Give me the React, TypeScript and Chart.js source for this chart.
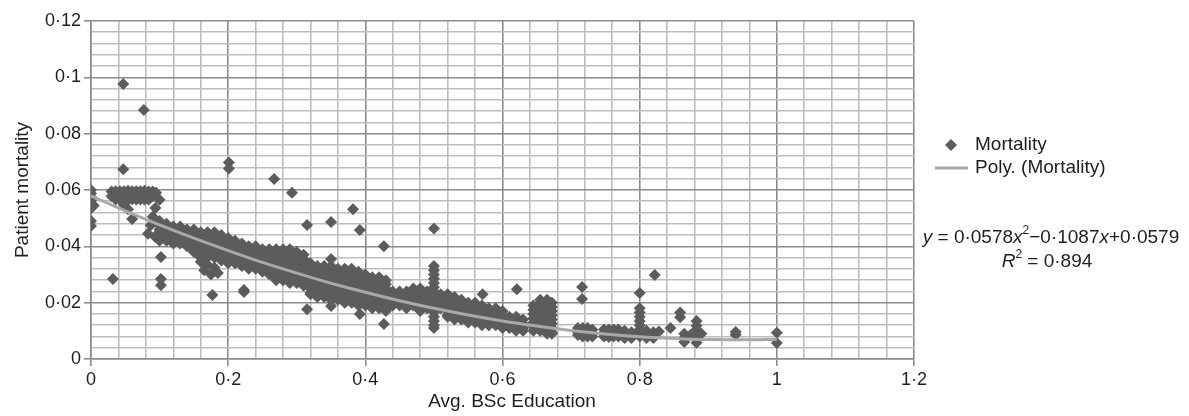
import React, { useEffect, useRef } from "react";
import { Chart, registerables } from "chart.js";

Chart.register(...registerables);

type Pair = [number, number];
type Column = [number, number[]];

// ---------- DATA ----------
const leftEdgePoints: Pair[] = [
  [0, 0.06], [0, 0.0588], [0, 0.0575], [0, 0.0562], [0, 0.055], [0, 0.0535],
  [0, 0.049], [0, 0.0472], [0.004, 0.0545],
];

const topClusterColumns: Column[] = [
  [0.03, [0.0595, 0.0578]],
  [0.036, [0.0596, 0.058, 0.0566]],
  [0.042, [0.0596, 0.058, 0.0566]],
  [0.048, [0.0596, 0.058, 0.0566, 0.0548]],
  [0.054, [0.0597, 0.058, 0.0566, 0.0532]],
  [0.06, [0.0596, 0.058, 0.0567, 0.0497]],
  [0.066, [0.0596, 0.058, 0.0566]],
  [0.072, [0.0596, 0.058, 0.0566]],
  [0.078, [0.0597, 0.058, 0.0566]],
  [0.084, [0.0595, 0.0578, 0.0566]],
  [0.09, [0.0595, 0.0578]],
  [0.095, [0.059, 0.0575]],
];

const branchPoints: Pair[] = [
  [0.1, 0.0565], [0.094, 0.0536], [0.09, 0.0505], [0.087, 0.0475], [0.083, 0.0445],
  [0.093, 0.0435], [0.104, 0.0455],
];

const lowerClusterPoints: Pair[] = [
  [0.158, 0.0365], [0.16, 0.0345], [0.165, 0.0315], [0.17, 0.0335], [0.175, 0.03],
  [0.18, 0.0325], [0.185, 0.0305],
];

const bandColumns: Column[] = [
  [0.1, [0.049, 0.0475, 0.046, 0.0445, 0.043, 0.042]],
  [0.11, [0.048, 0.0465, 0.045, 0.0435, 0.042]],
  [0.12, [0.047, 0.0455, 0.044, 0.0425, 0.041]],
  [0.13, [0.047, 0.0455, 0.044, 0.0425, 0.041]],
  [0.14, [0.046, 0.0445, 0.043, 0.0415, 0.04]],
  [0.15, [0.046, 0.0445, 0.043, 0.0415, 0.04, 0.0385, 0.038]],
  [0.16, [0.045, 0.0435, 0.042, 0.0405, 0.039, 0.0375, 0.037]],
  [0.17, [0.045, 0.0435, 0.042, 0.0405, 0.039, 0.0375, 0.036]],
  [0.18, [0.045, 0.0435, 0.042, 0.0405, 0.039, 0.0375, 0.036]],
  [0.19, [0.044, 0.0425, 0.041, 0.0395, 0.038, 0.0365, 0.035]],
  [0.2, [0.043, 0.0415, 0.04, 0.0385, 0.037, 0.0355, 0.034]],
  [0.21, [0.042, 0.0405, 0.039, 0.0375, 0.036, 0.0345, 0.034]],
  [0.22, [0.041, 0.0395, 0.038, 0.0365, 0.035, 0.0335, 0.033]],
  [0.23, [0.04, 0.0385, 0.037, 0.0355, 0.034, 0.0325, 0.032]],
  [0.24, [0.04, 0.0385, 0.037, 0.0355, 0.034, 0.0325, 0.032]],
  [0.25, [0.039, 0.0375, 0.036, 0.0345, 0.033, 0.0315, 0.031]],
  [0.26, [0.039, 0.0375, 0.036, 0.0345, 0.033, 0.0315, 0.03]],
  [0.27, [0.039, 0.0375, 0.036, 0.0345, 0.033, 0.0315, 0.03, 0.0285, 0.028]],
  [0.28, [0.039, 0.0375, 0.036, 0.0345, 0.033, 0.0315, 0.03, 0.0285, 0.028]],
  [0.29, [0.039, 0.0375, 0.036, 0.0345, 0.033, 0.0315, 0.03, 0.0285, 0.027]],
  [0.3, [0.038, 0.0365, 0.035, 0.0335, 0.032, 0.0305, 0.029, 0.0275, 0.027]],
  [0.31, [0.037, 0.0355, 0.034, 0.0325, 0.031, 0.0295, 0.028, 0.0265, 0.026]],
  [0.32, [0.034, 0.0325, 0.031, 0.0295, 0.028, 0.0265, 0.025, 0.0235, 0.023]],
  [0.33, [0.033, 0.0315, 0.03, 0.0285, 0.027, 0.0255, 0.024, 0.0225, 0.022]],
  [0.34, [0.033, 0.0315, 0.03, 0.0285, 0.027, 0.0255, 0.024, 0.0225, 0.022]],
  [0.35, [0.033, 0.0315, 0.03, 0.0285, 0.027, 0.0255, 0.024, 0.0225, 0.021]],
  [0.36, [0.032, 0.0305, 0.029, 0.0275, 0.026, 0.0245, 0.023, 0.0215, 0.021]],
  [0.37, [0.032, 0.0305, 0.029, 0.0275, 0.026, 0.0245, 0.023, 0.0215, 0.02]],
  [0.38, [0.032, 0.0305, 0.029, 0.0275, 0.026, 0.0245, 0.023, 0.0215, 0.02]],
  [0.39, [0.031, 0.0295, 0.028, 0.0265, 0.025, 0.0235, 0.022, 0.0205, 0.019]],
  [0.4, [0.03, 0.0285, 0.027, 0.0255, 0.024, 0.0225, 0.021, 0.0195, 0.019]],
  [0.41, [0.029, 0.0275, 0.026, 0.0245, 0.023, 0.0215, 0.02, 0.0185, 0.018]],
  [0.42, [0.029, 0.0275, 0.026, 0.0245, 0.023, 0.0215, 0.02, 0.0185, 0.018]],
  [0.43, [0.028, 0.0265, 0.025, 0.0235, 0.022, 0.0205, 0.019, 0.0175, 0.017]],
  [0.44, [0.024, 0.0225, 0.021, 0.0195, 0.019]],
  [0.45, [0.024, 0.0225, 0.021, 0.0195, 0.019]],
  [0.46, [0.024, 0.0225, 0.021, 0.0195, 0.018]],
  [0.47, [0.025, 0.0235, 0.022, 0.0205, 0.019]],
  [0.48, [0.025, 0.0235, 0.022, 0.0205, 0.019, 0.0175, 0.017]],
  [0.49, [0.024, 0.0225, 0.021, 0.0195, 0.018]],
  [0.5, [0.033, 0.0315, 0.03, 0.0285, 0.027, 0.0255, 0.024, 0.0225, 0.021, 0.0195, 0.018, 0.0165, 0.015, 0.0135, 0.012, 0.011]],
  [0.51, [0.023, 0.0215, 0.02, 0.0185, 0.018]],
  [0.52, [0.023, 0.0215, 0.02, 0.0185, 0.017, 0.0155, 0.015]],
  [0.53, [0.022, 0.0205, 0.019, 0.0175, 0.016, 0.0145, 0.014]],
  [0.54, [0.021, 0.0195, 0.018, 0.0165, 0.015, 0.014]],
  [0.55, [0.02, 0.0185, 0.017, 0.0155, 0.014, 0.013]],
  [0.56, [0.02, 0.0185, 0.017, 0.0155, 0.014, 0.013]],
  [0.57, [0.019, 0.0175, 0.016, 0.0145, 0.013, 0.012]],
  [0.58, [0.018, 0.0165, 0.015, 0.0135, 0.012]],
  [0.59, [0.018, 0.0165, 0.015, 0.0135, 0.012]],
  [0.6, [0.017, 0.0155, 0.014, 0.0125, 0.011]],
  [0.61, [0.015, 0.0135, 0.012, 0.011]],
  [0.62, [0.015, 0.0135, 0.012, 0.0105, 0.01]],
  [0.63, [0.014, 0.0125, 0.011, 0.01]],
  [0.645, [0.019, 0.0175, 0.016, 0.0145, 0.013, 0.0115, 0.01]],
  [0.655, [0.021, 0.0195, 0.018, 0.0165, 0.015, 0.0135, 0.012, 0.0105, 0.01]],
  [0.665, [0.021, 0.0195, 0.018, 0.0165, 0.015, 0.0135, 0.012, 0.0105, 0.009]],
  [0.672, [0.02, 0.0185, 0.017, 0.0155, 0.014, 0.0125, 0.011, 0.0095, 0.009]],
];

const tailColumns: Column[] = [
  [0.71, [0.011, 0.0095, 0.0085]],
  [0.717, [0.011, 0.0093, 0.008]],
  [0.724, [0.011, 0.0093, 0.008]],
  [0.731, [0.0105, 0.0092, 0.008]],
  [0.748, [0.0105, 0.0092, 0.008]],
  [0.755, [0.0105, 0.0092, 0.0078]],
  [0.762, [0.0105, 0.0092, 0.008]],
  [0.769, [0.0105, 0.0092, 0.008]],
  [0.778, [0.01, 0.0088, 0.0075]],
  [0.788, [0.0095, 0.0085, 0.0075]],
  [0.8, [0.0234, 0.018, 0.0165, 0.015, 0.0135, 0.012, 0.0105, 0.009, 0.008]],
  [0.81, [0.01, 0.0088, 0.0075]],
  [0.82, [0.0095, 0.0085, 0.0075]],
  [0.828, [0.0098]],
  [0.845, [0.011]],
  [0.859, [0.0165, 0.0148]],
  [0.865, [0.009, 0.0075, 0.006]],
  [0.874, [0.0085]],
  [0.883, [0.0135, 0.0118, 0.0105, 0.009, 0.008, 0.0058]],
  [0.89, [0.009]],
  [0.94, [0.0096, 0.0086]],
  [1.0, [0.0093, 0.0057]],
];

const outlierPoints: Pair[] = [
  [0.047, 0.0976], [0.077, 0.0884], [0.047, 0.0674], [0.201, 0.0698], [0.201, 0.0676],
  [0.267, 0.0639], [0.293, 0.059], [0.032, 0.0284], [0.102, 0.0362], [0.102, 0.0284],
  [0.102, 0.0262], [0.177, 0.0227], [0.223, 0.0245], [0.223, 0.0238], [0.315, 0.0476],
  [0.35, 0.0486], [0.382, 0.0532], [0.392, 0.0458], [0.427, 0.04], [0.35, 0.0355],
  [0.315, 0.0177], [0.35, 0.0188], [0.392, 0.016], [0.427, 0.0124], [0.5, 0.0463],
  [0.571, 0.023], [0.621, 0.0248], [0.716, 0.0256], [0.716, 0.0213], [0.822, 0.0298],
];

const trendX = [0, 0.05, 0.1, 0.15, 0.2, 0.25, 0.3, 0.35, 0.4, 0.45, 0.5, 0.55, 0.6, 0.65, 0.7, 0.75, 0.8, 0.85, 0.9, 0.95, 1.0];
const trendY = [0.0579, 0.0526, 0.0476, 0.0429, 0.0385, 0.0343, 0.0305, 0.0269, 0.0237, 0.0207, 0.018, 0.0156, 0.0135, 0.0117, 0.0101, 0.0089, 0.0079, 0.0073, 0.0069, 0.0068, 0.007];

const yTickValues = [0, 0.02, 0.04, 0.06, 0.08, 0.1, 0.12];
const yTickLabels = ["0", "0·02", "0·04", "0·06", "0·08", "0·1", "0·12"];
const xTickValues = [0, 0.2, 0.4, 0.6, 0.8, 1, 1.2];
const xTickLabels = ["0", "0·2", "0·4", "0·6", "0·8", "1", "1·2"];

const seriesLabel = "Mortality";
const trendLabel = "Poly. (Mortality)";
const xTitle = "Avg. BSc Education";
const yTitle = "Patient mortality";

// ---------- STYLE ----------
const FONT = '"Liberation Sans", Arial, Helvetica, sans-serif';
const POINT_COLOR = "#5c5c5c";
const TREND_COLOR = "#a8a8a8";
const MAJOR_GRID = "#8c8c8c";
const MINOR_GRID = "#bdbdbd";
const TEXT_COLOR = "#1e1e1e";

function expand(cols: Column[]): Pair[] {
  return cols.flatMap(([x, ys]) => ys.map((y) => [x, y] as Pair));
}
function isMajor(v: number, step: number) {
  const r = v / step;
  return Math.abs(r - Math.round(r)) < 1e-6;
}
function labelFor(v: number, values: number[], labels: string[]) {
  const i = values.findIndex((t) => Math.abs(t - v) < 1e-7);
  return i >= 0 ? labels[i] : "";
}

type Seg = { t: string; italic?: boolean; sup?: boolean };
const equationSegs: Seg[] = [
  { t: "y", italic: true }, { t: " = 0·0578" }, { t: "x", italic: true }, { t: "2", sup: true },
  { t: "\u22120·1087" }, { t: "x", italic: true }, { t: "+0·0579" },
];
const r2Segs: Seg[] = [{ t: "R", italic: true }, { t: "2", sup: true }, { t: " = 0·894" }];

function drawRich(ctx: CanvasRenderingContext2D, segs: Seg[], cx: number, cy: number, size: number) {
  const fontOf = (s: Seg) => `${s.italic ? "italic " : ""}${s.sup ? Math.round(size * 0.65) : size}px ${FONT}`;
  let total = 0;
  for (const s of segs) { ctx.font = fontOf(s); total += ctx.measureText(s.t).width; }
  let x = cx - total / 2;
  ctx.textAlign = "left";
  ctx.textBaseline = "middle";
  for (const s of segs) {
    ctx.font = fontOf(s);
    ctx.fillText(s.t, x, s.sup ? cy - 7 : cy);
    x += ctx.measureText(s.t).width;
  }
}

const overlayPlugin = {
  id: "overlayText",
  afterDraw(chart: any) {
    const ctx: CanvasRenderingContext2D = chart.ctx;
    ctx.save();
    const y1 = 145, y2 = 168, mx = 951, tx = 975;
    ctx.fillStyle = POINT_COLOR;
    ctx.beginPath();
    ctx.moveTo(mx, y1 - 6); ctx.lineTo(mx + 6, y1); ctx.lineTo(mx, y1 + 6); ctx.lineTo(mx - 6, y1);
    ctx.closePath(); ctx.fill();
    ctx.strokeStyle = TREND_COLOR; ctx.lineWidth = 3;
    ctx.beginPath(); ctx.moveTo(935, y2); ctx.lineTo(968, y2); ctx.stroke();
    ctx.fillStyle = TEXT_COLOR;
    ctx.font = `19px ${FONT}`;
    ctx.textAlign = "left"; ctx.textBaseline = "middle";
    ctx.fillText(seriesLabel, tx, y1);
    ctx.fillText(trendLabel, tx, y2);
    drawRich(ctx, equationSegs, 1051, 238, 19);
    drawRich(ctx, r2Segs, 1047, 262, 19);
    ctx.font = `19px ${FONT}`;
    ctx.textAlign = "center";
    ctx.fillText(xTitle, 512, 402);
    ctx.restore();
  },
};

export default function App() {
  const ref = useRef<HTMLCanvasElement | null>(null);
  useEffect(() => {
    if (!ref.current) return;
    Chart.defaults.font.family = FONT;
    const scatterData = [
      ...leftEdgePoints, ...expand(topClusterColumns), ...branchPoints, ...lowerClusterPoints,
      ...expand(bandColumns), ...expand(tailColumns), ...outlierPoints,
    ].map(([x, y]) => ({ x, y }));
    const trendData = trendX.map((x, i) => ({ x, y: trendY[i] }));
    const gridColor = (step: number) => (c: any) => (c.tick && isMajor(c.tick.value, step) ? MAJOR_GRID : MINOR_GRID);
    const tickColor = (step: number) => (c: any) => (c.tick && isMajor(c.tick.value, step) ? MAJOR_GRID : "rgba(0,0,0,0)");
    const chart = new Chart(ref.current, {
      type: "scatter",
      data: {
        datasets: [
          {
            label: trendLabel, data: trendData, showLine: true, borderColor: TREND_COLOR,
            borderWidth: 3, pointRadius: 0, cubicInterpolationMode: "monotone", order: 0,
          } as any,
          {
            label: seriesLabel, data: scatterData, pointStyle: "rectRot", pointRadius: 6,
            backgroundColor: POINT_COLOR, borderColor: POINT_COLOR, borderWidth: 0, order: 1,
          } as any,
        ],
      },
      options: {
        responsive: false,
        animation: false,
        layout: { padding: { top: 21, right: 275, bottom: 0, left: 0 } },
        plugins: { legend: { display: false }, tooltip: { enabled: false } },
        scales: {
          x: {
            type: "linear", min: 0, max: 1.2,
            ticks: {
              stepSize: 0.04, autoSkip: false, maxRotation: 0, padding: 3,
              color: TEXT_COLOR, font: { size: 18 },
              callback: (v: any) => labelFor(Number(v), xTickValues, xTickLabels),
            },
            grid: { color: gridColor(0.2), lineWidth: 1.6, tickColor: tickColor(0.2), tickLength: 7 },
            border: { color: MAJOR_GRID, width: 1.6 },
            afterFit: (s: any) => { s.height = 57; },
          },
          y: {
            type: "linear", min: 0, max: 0.12,
            ticks: {
              stepSize: 0.004, autoSkip: false, padding: 3,
              color: TEXT_COLOR, font: { size: 18 },
              callback: (v: any) => labelFor(Number(v), yTickValues, yTickLabels),
            },
            grid: { color: gridColor(0.02), lineWidth: 1.6, tickColor: tickColor(0.02), tickLength: 7 },
            border: { color: MAJOR_GRID, width: 1.6 },
            title: { display: true, text: yTitle, color: TEXT_COLOR, font: { size: 19 }, padding: { top: 11, bottom: 0 } },
            afterFit: (s: any) => { s.width = 91; },
          },
        },
      } as any,
      plugins: [overlayPlugin],
    });
    return () => chart.destroy();
  }, []);
  return (
    <div style={{ position: "absolute", left: 0, top: 0, width: 1189, height: 416, background: "#fff" }}>
      <canvas ref={ref} width={1189} height={416} style={{ display: "block" }} />
    </div>
  );
}
